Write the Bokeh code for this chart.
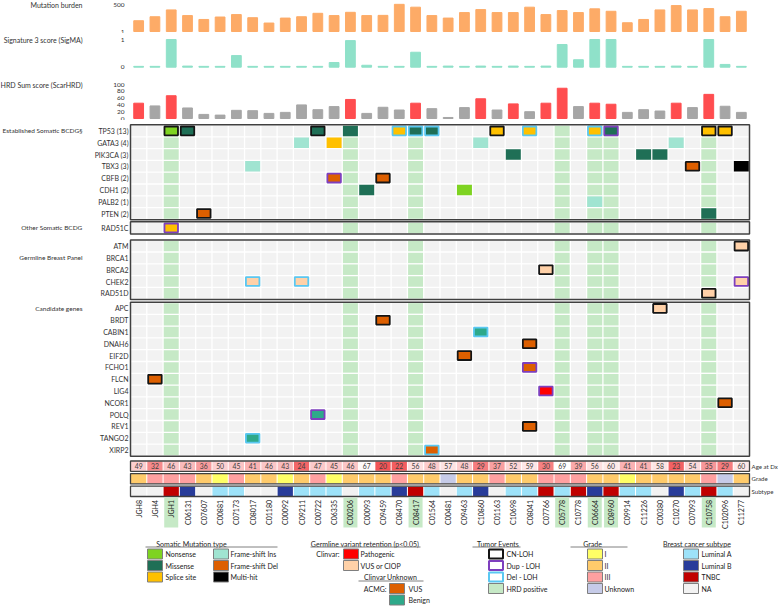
import math
from bokeh.plotting import figure
from bokeh.models import Range1d
from bokeh.layouts import column
from bokeh.embed import file_html
from bokeh.resources import INLINE
from bokeh.core.properties import value

# ---------------- data ----------------
samples = ["JGH8", "JGH4", "JGH1", "C06131", "C07607", "C00881", "C07173", "C08017", "C01180",
           "C00092", "C09211", "C00722", "C06335", "C00206", "C00093", "C09459", "C08470",
           "C08417", "C01564", "C00481", "C09463", "C10860", "C01163", "C10698", "C08041",
           "C07766", "C05778", "C10778", "C06664", "C08960", "C09914", "C11226", "C00380",
           "C10270", "C07093", "C10758", "C102096", "C11277"]
hrd_positive = ["JGH1", "C00206", "C08417", "C05778", "C06664", "C08960", "C10758"]

mutation_burden = [12, 30, 144, 39, 16, 28, 49, 24, 7, 22, 30, 66, 39, 83, 39, 41, 520, 270, 39,
                   22, 78, 155, 78, 78, 270, 49, 123, 78, 184, 105, 7.5, 16, 144, 390, 144, 196, 30, 105]
sig3_score = [0.03, 0.03, 1.0, 0.04, 0.03, 0.03, 0.42, 0.03, 0.03, 0.03, 0.03, 0.03, 0.17, 0.96,
              0.07, 0.03, 0.03, 0.54, 0.03, 0.04, 0.03, 0.04, 0.03, 0.04, 0.03, 0.04, 0.82, 0.27,
              1.0, 1.0, 0.03, 0.03, 0.03, 0.04, 0.03, 1.0, 0.1, 0.03]
hrd_sum = [45, 37, 67, 31, 12, 10, 24, 23, 15, 18, 40, 26, 35, 56, 15, 33, 25, 45, 29, 3, 32, 58,
           25, 43, 20, 45, 89, 35, 45, 42, 18, 26, 22, 45, 32, 71, 36, 18]
age_at_dx = [49, 32, 46, 43, 36, 50, 45, 41, 46, 43, 24, 47, 45, 46, 67, 20, 22, 56, 48, 57, 48, 29,
             37, 52, 59, 30, 69, 39, 56, 60, 41, 41, 58, 23, 54, 35, 29, 60]
grade = ["II", "III", "III", "III", "II", "I", "III", "II", "II", "I", "II", "III", "I", "II", "II",
         "II", "III", "II", "II", "Unknown", "II", "II", "III", "II", "II", "III", "III", "III", "II",
         "II", "I", "II", "II", "II", "II", "III", "Unknown", "II"]
subtype = ["NA", "NA", "TNBC", "Luminal B", "NA", "Luminal A", "Luminal A", "NA", "NA", "Luminal B",
           "Luminal A", "Luminal A", "Luminal A", "NA", "Luminal A", "Luminal A", "Luminal B", "TNBC",
           "Luminal A", "NA", "Luminal A", "Luminal B", "NA", "Luminal A", "Luminal A", "TNBC",
           "Luminal A", "TNBC", "Luminal B", "TNBC", "Luminal A", "Luminal A", "NA", "Luminal B",
           "Luminal A", "TNBC", "Luminal A", "NA"]

mb_ticks = [1, 500]
sig_ticks = [0, 1]
hrd_ticks = [0, 20, 40, 60, 80, 100]
panel_titles = ["Mutation burden", "Signature 3 score (SigMA)", "HRD Sum score (ScarHRD)"]

somatic_genes = ["TP53", "GATA3", "PIK3CA", "TBX3", "CBFB", "CDH1", "PALB2", "PTEN"]
other_genes = ["RAD51C"]
germline_genes = ["ATM", "BRCA1", "BRCA2", "CHEK2", "RAD51D"]
candidate_genes = ["APC", "BRDT", "CABIN1", "DNAH6", "EIF2D", "FCHO1", "FLCN", "LIG4", "NCOR1",
                   "POLQ", "REV1", "TANGO2", "XIRP2"]
block_titles = ["Established Somatic BCDG\u00a7", "Other Somatic BCDG", "Germline Breast Panel", "Candidate genes"]
ann_names = ["Age at Dx", "Grade", "Subtype"]

ev_gene = ["TP53"] * 13 + ["GATA3"] * 4 + ["PIK3CA"] * 3 + ["TBX3"] * 3 + ["CBFB"] * 2 + ["CDH1"] * 2 + \
          ["PALB2", "PTEN", "PTEN", "RAD51C", "ATM", "BRCA2", "CHEK2", "CHEK2", "CHEK2", "RAD51D",
           "APC", "BRDT", "CABIN1", "DNAH6", "EIF2D", "FCHO1", "FLCN", "LIG4", "NCOR1", "POLQ",
           "REV1", "TANGO2", "XIRP2"]
ev_sample = ["JGH1", "C06131", "C00722", "C00206", "C08470", "C08417", "C01564", "C01163", "C08041",
             "C06664", "C08960", "C10758", "C102096",
             "C09211", "C06335", "C10860", "C10270",
             "C10698", "C11226", "C00380",
             "C08017", "C07093", "C11277",
             "C06335", "C09459",
             "C00093", "C09463",
             "C06664", "C07607", "C10758", "JGH1", "C11277", "C07766", "C08017", "C09211", "C11277",
             "C10758", "C00380", "C09459", "C10860", "C08041", "C09463", "C08041", "JGH4", "C07766",
             "C102096", "C00722", "C08041", "C08017", "C01564"]
ev_type = ["Nonsense", "Missense", "Missense", "Missense", "Splice site", "Missense", "Missense",
           "Splice site", "Splice site", "Splice site", "Missense", "Splice site", "Splice site",
           "Frame-shift Ins", "Splice site", "Frame-shift Ins", "Frame-shift Ins",
           "Missense", "Missense", "Missense",
           "Frame-shift Ins", "Frame-shift Del", "Multi-hit",
           "Frame-shift Del", "Frame-shift Del",
           "Missense", "Nonsense",
           "Frame-shift Ins", "Frame-shift Del", "Missense", "Splice site", "VUS or CIOP", "VUS or CIOP",
           "VUS or CIOP", "VUS or CIOP", "VUS or CIOP", "VUS or CIOP", "VUS or CIOP", "VUS", "Benign",
           "VUS", "VUS", "VUS", "VUS", "Pathogenic", "VUS", "Benign", "VUS", "Benign", "VUS"]
ev_loh = ["CN-LOH", "CN-LOH", "CN-LOH", "", "Del - LOH", "Del - LOH", "Del - LOH", "CN-LOH", "Del - LOH",
          "Del - LOH", "Dup - LOH", "CN-LOH", "CN-LOH",
          "", "", "", "",
          "", "", "",
          "", "CN-LOH", "",
          "Dup - LOH", "CN-LOH",
          "", "",
          "", "CN-LOH", "", "Dup - LOH", "CN-LOH", "CN-LOH", "Del - LOH", "Del - LOH", "Dup - LOH",
          "CN-LOH", "CN-LOH", "CN-LOH", "Del - LOH", "CN-LOH", "CN-LOH", "Dup - LOH", "CN-LOH",
          "Dup - LOH", "CN-LOH", "Dup - LOH", "CN-LOH", "Del - LOH", "Del - LOH"]

leg_titles = ["Somatic Mutation type", "Germline variant retention (p<0.05)", "Clinvar Unknown",
              "Tumor Events", "Grade", "Breast cancer subtype"]
leg_somatic = ["Nonsense", "Missense", "Splice site", "Frame-shift Ins", "Frame-shift Del", "Multi-hit"]
leg_clinvar = ["Pathogenic", "VUS or CIOP"]
leg_acmg = ["VUS", "Benign"]
leg_tumor = ["CN-LOH", "Dup - LOH", "Del - LOH", "HRD positive"]
leg_grade = ["I", "II", "III", "Unknown"]
leg_subtype = ["Luminal A", "Luminal B", "TNBC", "NA"]

# ---------------- styles ----------------
FONT = "Lato"
TXT = "#333333"
type_colors = {"Nonsense": "#7ed321", "Missense": "#1f6f56", "Splice site": "#ffc000",
               "Frame-shift Ins": "#a0e4d1", "Frame-shift Del": "#dd5f00", "Multi-hit": "#000000",
               "Pathogenic": "#ff0000", "VUS or CIOP": "#ffd1a8", "VUS": "#dd5f00", "Benign": "#2ea98a"}
loh_colors = {"CN-LOH": "#141414", "Dup - LOH": "#7e3fbe", "Del - LOH": "#5ac8f2"}
grade_colors = {"I": "#ffff66", "II": "#ffcb6b", "III": "#ffa0a0", "Unknown": "#c6cbe8"}
subtype_colors = {"Luminal A": "#9de2f9", "Luminal B": "#283c9a", "TNBC": "#c00000", "NA": "#f2f2f2"}
HRD_GREEN = "#c6e9c6"
CELL_BG = "#f2f2f2"
BOX = "#404040"


def age_color(a):
    stops = [(20, (242, 84, 86)), (45, (251, 196, 197)), (69, (255, 255, 255))]
    a = max(20, min(69, a))
    for (a0, c0), (a1, c1) in zip(stops[:-1], stops[1:]):
        if a0 <= a <= a1:
            t = (a - a0) / (a1 - a0)
            c = [round(c0[k] + (c1[k] - c0[k]) * t) for k in range(3)]
            return "#%02x%02x%02x" % tuple(c)
    return "#ffffff"


# ---------------- geometry ----------------
W = 778
FRAME_L, FRAME_R = 130.0, 749.0
N = len(samples)
PITCH = (FRAME_R - FRAME_L) / N
xs = [i + 0.5 for i in range(N)]
col_of = {s: i for i, s in enumerate(samples)}


def px_x(px):
    return (px - FRAME_L) / PITCH


xr = Range1d(px_x(0), px_x(W))


def anchored_range(h, va, pa, vb, pb, log=False):
    f = math.log10 if log else (lambda v: v)
    ua, ub = f(va), f(vb)
    k = (ub - ua) / (pb - pa)
    u_top = ua - k * pa
    u_bot = u_top + k * h
    if log:
        return Range1d(10 ** u_bot, 10 ** u_top)
    return Range1d(u_bot, u_top)


def base_fig(height, y_range, x_range=None, **kw):
    p = figure(width=W, height=height, x_range=x_range if x_range is not None else xr,
               y_range=y_range, output_backend="svg", toolbar_location=None,
               min_border=0, x_axis_location=None, y_axis_location=None, **kw)
    p.grid.visible = False
    p.outline_line_color = None
    p.background_fill_color = "white"
    p.border_fill_color = "white"
    return p


def texts(p, x, y, t, align="left", size="7px", color=TXT, angle=0.0, baseline="middle"):
    p.text(x=x, y=y, text=t, text_align=align, text_baseline=baseline, angle=angle,
           text_font=value(FONT), text_font_size=value(size), text_color=color)


def bar_panel(h, rng, vals, bottom, color, ticks, title, title_val, log=False):
    p = base_fig(h, rng, y_axis_type="log" if log else "linear")
    p.vbar(x=xs, width=0.6, bottom=bottom, top=vals, color=color)
    texts(p, [px_x(124)] * len(ticks), ticks, [str(t) for t in ticks], align="right",
          size="6.5px")
    texts(p, [px_x(82)], [title_val], [title], align="right", size="7px")
    return p


# ---------------- bar panels ----------------
f1 = bar_panel(33, anchored_range(33, 1, 31, 500, 4, log=True), mutation_burden, 1, "#fdab67",
               mb_ticks, panel_titles[0], 500, log=True)
f2 = bar_panel(37, anchored_range(37, 0, 33.7, 1, 6), sig3_score, 0, "#8fe1c9",
               sig_ticks, panel_titles[1], 1)
hrd_cols = ["#ff4d4f" if v >= 42 else "#a6a6a6" for v in hrd_sum]
f3 = bar_panel(50, anchored_range(50, 0, 48, 100, 14), hrd_sum, 0, hrd_cols,
               hrd_ticks, panel_titles[2], 100)

# ---------------- oncoprint grid ----------------
G_TOP, G_BOT = 120, 536
g = base_fig(G_BOT - G_TOP, Range1d(G_BOT, G_TOP))

blocks = [somatic_genes, other_genes, germline_genes, candidate_genes]
title_row = [0, 0, 1, 0]
ROW_H = 11.8
block_gap = [2.6, 6.4, 3.3]
cur = 124.5
row_y = {}
spans = []
for b, genes in enumerate(blocks):
    top = cur
    for j, gname in enumerate(genes):
        row_y[gname] = top + ROW_H * (j + 0.5)
    bottom = top + ROW_H * len(genes)
    spans.append((top, bottom))
    if b < len(block_gap):
        cur = bottom + block_gap[b]

bx, by, bc = [], [], []
for gname, yv in row_y.items():
    for i, s in enumerate(samples):
        bx.append(i + 0.5)
        by.append(yv)
        bc.append(HRD_GREEN if s in hrd_positive else CELL_BG)
g.rect(x=bx, y=by, width=1 - 1.3 / PITCH, height=ROW_H - 1.3, fill_color=bc, line_color=None)

nb = dict(x=[], y=[], c=[])
wb = dict(x=[], y=[], c=[], lc=[])
for gname, s, t, l in zip(ev_gene, ev_sample, ev_type, ev_loh):
    d = wb if l else nb
    d["x"].append(col_of[s] + 0.5)
    d["y"].append(row_y[gname])
    d["c"].append(type_colors[t])
    if l:
        d["lc"].append(loh_colors[l])
g.rect(x=nb["x"], y=nb["y"], width=1 - 1.3 / PITCH, height=ROW_H - 1.3, fill_color=nb["c"], line_color=None)
g.rect(x=wb["x"], y=wb["y"], width=(PITCH - 2.8) / PITCH, height=ROW_H - 3.0,
       fill_color=wb["c"], line_color=wb["lc"], line_width=1.8)

for (top, bottom) in spans:
    g.rect(x=N / 2, y=(top + bottom) / 2, width=N, height=bottom - top + 0.6,
           fill_color=None, line_color=BOX, line_width=1.5)

count_of = {gname: ev_gene.count(gname) for gname in somatic_genes}
lab_txt = [f"{gname} ({count_of[gname]})" for gname in somatic_genes]
for genes in blocks[1:]:
    lab_txt += genes
lab_y = [row_y[gname] for genes in blocks for gname in genes]
texts(g, [px_x(128)] * len(lab_y), lab_y, lab_txt, align="right", size="7px")
texts(g, [px_x(82)] * len(blocks), [row_y[genes[title_row[b]]] for b, genes in enumerate(blocks)],
      block_titles, align="right", size="6.5px")

ANN_TOP, ANN_H, ANN_GAP = 460.5, 10.3, 2.3
ann_y = [ANN_TOP + ANN_H / 2 + k * (ANN_H + ANN_GAP) for k in range(3)]
ann_fills = [[age_color(a) for a in age_at_dx],
             [grade_colors[v] for v in grade],
             [subtype_colors[v] for v in subtype]]
for k in range(3):
    g.rect(x=xs, y=[ann_y[k]] * N, width=1 - 1.0 / PITCH, height=ANN_H - 1.0,
           fill_color=ann_fills[k], line_color=None)
    g.rect(x=N / 2, y=ann_y[k], width=N, height=ANN_H, fill_color=None, line_color=BOX, line_width=1.3)
texts(g, [px_x(751)] * 3, ann_y, ann_names, align="left", size="6.1px")
texts(g, xs, [ann_y[0]] * N, [str(a) for a in age_at_dx], align="center", size="6.8px", color="#404040")

hx = [col_of[s] + 0.5 for s in hrd_positive]
g.rect(x=hx, y=[512] * len(hx), width=0.86, height=30, fill_color=HRD_GREEN, line_color=None)
texts(g, xs, [499.5] * N, samples, align="right", size="7px", color="#222222", angle=math.pi / 2)

# ---------------- legend ----------------
L_TOP, L_BOT = 536, 606
L = base_fig(L_BOT - L_TOP, Range1d(L_BOT, L_TOP), x_range=Range1d(0, W))
TY, UY, R0, RS = 543, 546.5, 553.5, 11.5
rows = [R0 + k * RS for k in range(5)]
sw_thin = dict(x=[], y=[], c=[])
sw_thick = dict(x=[], y=[], c=[], lc=[])
tx = dict(x=[], y=[], t=[])


def add_items(xc, lx, labels, fills, start=0, borders=None):
    for k, (lab, f) in enumerate(zip(labels, fills)):
        yv = rows[start + k]
        if borders and borders[k]:
            sw_thick["x"].append(xc); sw_thick["y"].append(yv); sw_thick["c"].append(f)
            sw_thick["lc"].append(borders[k])
        else:
            sw_thin["x"].append(xc); sw_thin["y"].append(yv); sw_thin["c"].append(f)
        tx["x"].append(lx); tx["y"].append(yv); tx["t"].append(lab)


add_items(154.5, 165, leg_somatic[:3], [type_colors[t] for t in leg_somatic[:3]])
add_items(220.5, 230, leg_somatic[3:], [type_colors[t] for t in leg_somatic[3:]])
add_items(350.5, 360, leg_clinvar, [type_colors[t] for t in leg_clinvar])
add_items(396.5, 408, leg_acmg, [type_colors[t] for t in leg_acmg], start=3)
add_items(495.5, 506, leg_tumor, ["white", "white", "white", HRD_GREEN],
          borders=[loh_colors["CN-LOH"], loh_colors["Dup - LOH"], loh_colors["Del - LOH"], None])
add_items(594.5, 604, leg_grade, [grade_colors[v] for v in leg_grade])
add_items(690.5, 701, leg_subtype, [subtype_colors[v] for v in leg_subtype])

L.rect(x=sw_thin["x"], y=sw_thin["y"], width=15, height=10, fill_color=sw_thin["c"],
       line_color="#7f7f7f", line_width=1)
L.rect(x=sw_thick["x"], y=sw_thick["y"], width=14, height=9, fill_color=sw_thick["c"],
       line_color=sw_thick["lc"], line_width=2)
texts(L, tx["x"], tx["y"], tx["t"], align="left", size="7px", color="#222222")

t_cx = [191, 364.5, 390, 497.5, 592, 696.5]
t_y = [TY, TY, rows[2], TY, TY, TY]
u_x0 = [145, 310, 358, 472, 570, 663]
u_x1 = [277, 420, 423, 520, 627, 730]
u_y = [UY, UY, rows[2] + 4, UY, UY, UY]
texts(L, t_cx, t_y, leg_titles, align="center", size="7px", color="#222222")
L.segment(x0=u_x0, y0=u_y, x1=u_x1, y1=u_y, line_color="#808080", line_width=1)
texts(L, [339, 386], [rows[0], rows[3]], ["Clinvar:", "ACMG:"], align="right", size="7px", color="#222222")

layout = column(f1, f2, f3, g, L)
open("out.html", "w").write(file_html(layout, INLINE))
